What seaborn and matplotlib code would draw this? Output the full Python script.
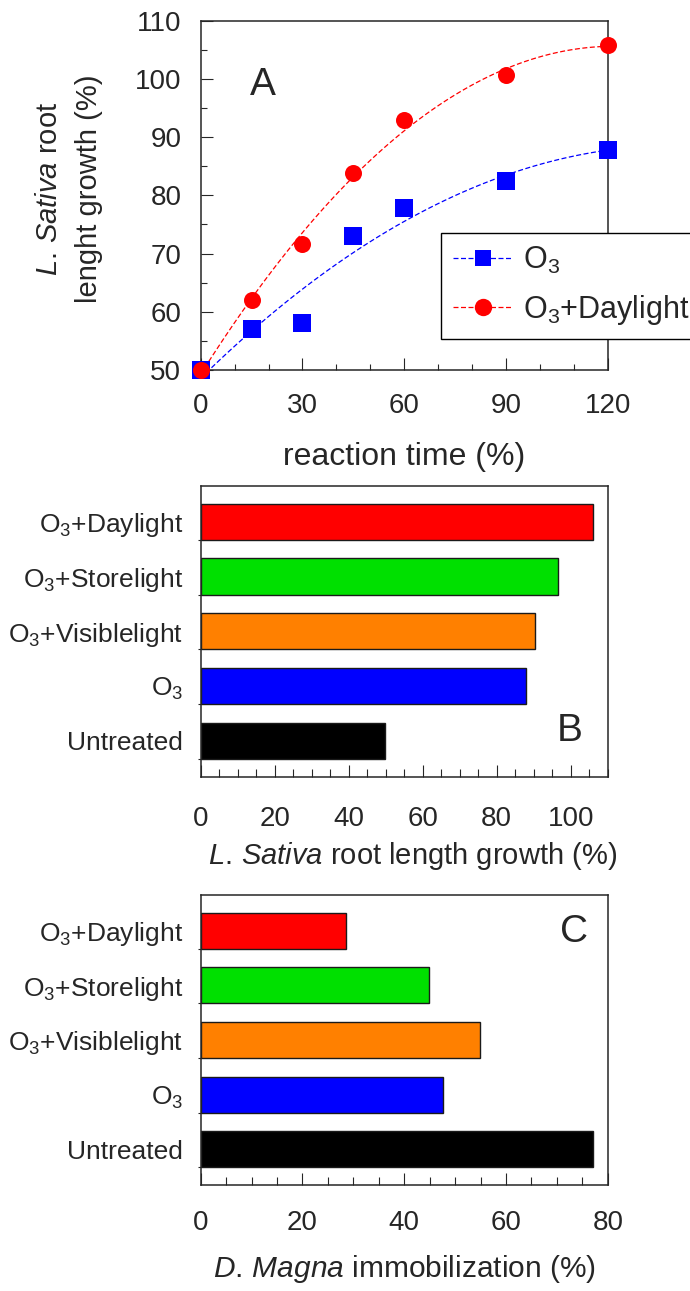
import numpy as np
import pandas as pd
import matplotlib
matplotlib.use("Agg")
import matplotlib.pyplot as plt
import seaborn as sns
from matplotlib.lines import Line2D
from matplotlib.ticker import MultipleLocator, FixedLocator

# ---------------- data ----------------
time_min = [0, 15, 30, 45, 60, 90, 120]
growth_o3 = [50, 57.0, 58.1, 73.0, 77.8, 82.5, 87.7]
growth_o3_day = [50, 62.0, 71.6, 83.8, 93.0, 100.6, 105.8]
series_labels = ["O$_3$", "O$_3$+Daylight"]

treatments = ["O$_3$+Daylight", "O$_3$+Storelight", "O$_3$+Visiblelight", "O$_3$", "Untreated"]
root_growth = [106.0, 96.6, 90.4, 87.8, 49.7]
immobilization = [28.6, 44.9, 54.8, 47.7, 77.1]
bar_colors = ["#FF0000", "#00E000", "#FF8000", "#0000FF", "#000000"]

# ---------------- style ----------------
sns.set_theme(style="ticks")
plt.rcParams["font.family"] = ["Liberation Sans", "DejaVu Sans"]
plt.rcParams["mathtext.fontset"] = "custom"
plt.rcParams["mathtext.rm"] = "Liberation Sans"
plt.rcParams["mathtext.it"] = "Liberation Sans:italic"
plt.rcParams["axes.linewidth"] = 1.1

FS = 20      # tick labels

fig = plt.figure(figsize=(6.9, 12.91), dpi=100)
axA = fig.add_axes([0.2909, 0.7134, 0.5899, 0.2706])
axB = fig.add_axes([0.2909, 0.3984, 0.5899, 0.2254])
axC = fig.add_axes([0.2909, 0.0819, 0.5899, 0.2251])

# ---------------- panel A ----------------
dash = (0, (4, 2))
for yv, col, mk in [(growth_o3, "#0000FF", "s"), (growth_o3_day, "#FF0000", "o")]:
    sns.regplot(x=time_min, y=yv, order=2, ci=None, ax=axA, marker=mk, color=col,
                scatter_kws=dict(s=150, linewidths=0, clip_on=False, zorder=4, alpha=1),
                line_kws=dict(lw=0.9, ls=dash, zorder=3))
axA.set_xlim(0, 120)
axA.set_ylim(50, 110)
axA.xaxis.set_major_locator(MultipleLocator(30))
axA.xaxis.set_minor_locator(MultipleLocator(10))
axA.yaxis.set_major_locator(MultipleLocator(10))
axA.yaxis.set_minor_locator(MultipleLocator(5))
axA.tick_params(which="both", direction="in", width=0.8, labelsize=FS)
axA.tick_params(which="major", length=8.5)
axA.tick_params(which="minor", length=4.5)
axA.tick_params(axis="x", which="major", pad=16.5)
axA.tick_params(axis="y", which="major", pad=14)
axA.set_xlabel("reaction time (%)", fontsize=23)
axA.xaxis.set_label_coords(0.5, -0.205)
axA.xaxis.label.set_va("top")
axA.set_ylabel("")
ylab_y = 1 - 189 / 1291
fig.text(49 / 690, ylab_y, "$\\it{L.\\,Sativa}$ root", rotation=90, ha="center",
         va="center", fontsize=21)
fig.text(89 / 690, ylab_y, "lenght growth (%)", rotation=90, ha="center",
         va="center", fontsize=21)
axA.text(0.153, 0.816, "A", transform=axA.transAxes, fontsize=28, ha="center", va="center")

handles = [
    Line2D([], [], color="#0000FF", lw=0.9, ls=dash, marker="s", markersize=12, markeredgewidth=0),
    Line2D([], [], color="#FF0000", lw=0.9, ls=dash, marker="o", markersize=12.5, markeredgewidth=0),
]
leg = axA.legend(handles, series_labels, loc="lower left", bbox_to_anchor=(0.59, 0.0887),
                 fontsize=22, frameon=True, fancybox=False, edgecolor="black", framealpha=1,
                 handlelength=1.96, handletextpad=0.33, borderpad=0.4, labelspacing=0.55,
                 borderaxespad=0)
leg.get_frame().set_linewidth(1.0)
leg.set_zorder(10)

# ---------------- panels B and C ----------------
def bar_panel(ax, values, xmax, major, xlabel, label_xy, letter, label_x, label_y, xpad, lfs):
    df = pd.DataFrame({"treatment": treatments, "value": values})
    sns.barplot(data=df, x="value", y="treatment", hue="treatment", palette=bar_colors,
                legend=False, orient="h", width=0.66, edgecolor="#1a1a1a", linewidth=1.0,
                ax=ax, saturation=1)
    n = len(treatments)
    ax.set_ylim(n - 1 + 0.66, -0.66)
    ax.set_xlim(0, xmax)
    ax.xaxis.set_major_locator(MultipleLocator(major))
    ax.xaxis.set_minor_locator(MultipleLocator(5))
    ax.yaxis.set_minor_locator(FixedLocator(np.arange(n) + 0.33))
    ax.tick_params(axis="x", which="both", direction="in", width=0.8, labelsize=FS, pad=xpad)
    ax.tick_params(axis="x", which="major", length=8.5)
    ax.tick_params(axis="x", which="minor", length=5.5)
    ax.tick_params(axis="y", which="major", length=0, labelsize=19, pad=12.5)
    ax.tick_params(axis="y", which="minor", length=2, direction="out", width=0.8)
    ax.set_ylabel("")
    ax.set_xlabel(xlabel, fontsize=lfs)
    ax.xaxis.set_label_coords(label_x, label_y)
    ax.xaxis.label.set_va("top")
    ax.text(label_xy[0], label_xy[1], letter, transform=ax.transAxes, fontsize=28,
            ha="center", va="center")

bar_panel(axB, root_growth, 110, 20, "$\\it{L.\\,Sativa}$ root length growth (%)",
          (0.907, 0.157), "B", label_x=0.52, label_y=-0.2175, xpad=21, lfs=21)
bar_panel(axC, immobilization, 80, 20, "$\\it{D.\\,Magna}$ immobilization (%)",
          (0.917, 0.872), "C", label_x=0.5, label_y=-0.233, xpad=18, lfs=21.5)

fig.savefig("out.png", dpi=100)
